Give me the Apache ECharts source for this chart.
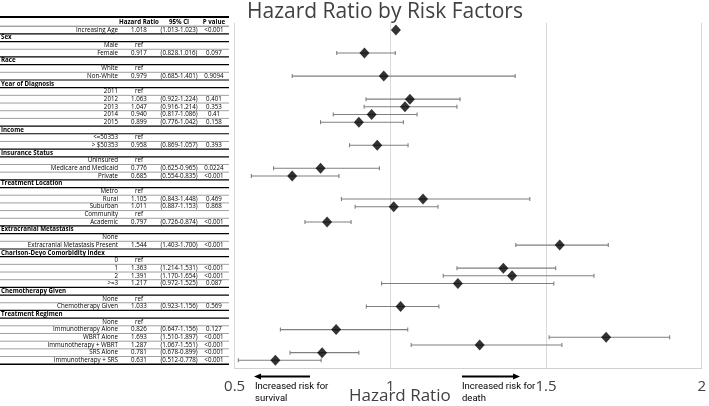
<!DOCTYPE html>
<html>
<head>
<meta charset="utf-8">
<script src="https://cdn.jsdelivr.net/npm/echarts@6/dist/echarts.min.js"></script>
<style>html,body{margin:0;padding:0;background:#fff}#c{width:709px;height:406px}</style>
</head>
<body>
<div id="c"></div>
<script>
// ---- data ----
const rowLabels = ["", "Increasing Age", "Sex", "Male", "Female", "Race", "White", "Non-White",
  "Year of Diagnosis", "2011", "2012", "2013", "2014", "2015", "Income", "<=50353", "> $50353",
  "Insurance Status", "Uninsured", "Medicare and Medicaid", "Private", "Treatment Location",
  "Metro", "Rural", "Suburban", "Community", "Academic", "Extracranial Metastasis", "None",
  "Extracranial Metastasis Present", "Charlson-Deyo Comorbidity Index", "0", "1", "2", ">=3",
  "Chemotherapy Given", "None", "Chemotherapy Given", "Treatment Regimen", "None",
  "Immunotherapy Alone", "WBRT Alone", "Immunotherapy + WBRT", "SRS Alone", "Immunotherapy + SRS"];
const isGroup = [0,0,1,0,0,1,0,0,1,0,0,0,0,0,1,0,0,1,0,0,0,1,0,0,0,0,0,1,0,0,1,0,0,0,0,1,0,0,1,0,0,0,0,0,0];
const hrText = ["Hazard Ratio","1.018","","ref","0.917","","ref","0.979","","ref","1.063","1.047","0.940","0.899",
  "","ref","0.958","","ref","0.776","0.685","","ref","1.105","1.011","ref","0.797","","","1.544","","ref",
  "1.363","1.391","1.217","","ref","1.033","","ref","0.826","1.693","1.287","0.781","0.631"];
const ciText = ["95% CI","(1.013-1.023)","","","(0.828.1.016)","","","(0.685-1.401)","","","(0.922-1.224)",
  "(0.916-1.214)","(0.817-1.086)","(0.776-1.042)","","","(0.869-1.057)","","","(0.625-0.965)","(0.554-0.835)",
  "","","(0.843-1.448)","(0.887-1.153)","","(0.726-0.874)","","","(1.403-1.700)","","","(1.214-1.531)",
  "(1.170-1.654)","(0.972-1.525)","","","(0.923-1.156)","","","(0.647-1.156)","(1.510-1.897)","(1.067-1.551)",
  "(0.678-0.899)","(0.512-0.778)"];
const pText = ["P value","<0.001","","","0.097","","","0.9094","","","0.401","0.353","0.41","0.158","","","0.393",
  "","","0.0224","<0.001","","","0.469","0.868","","<0.001","","","<0.001","","","<0.001","<0.001","0.087",
  "","","0.569","","","0.127","<0.001","<0.001","<0.001","<0.001"];
const hr = [null,1.018,null,null,0.917,null,null,0.979,null,null,1.063,1.047,0.940,0.899,null,null,0.958,
  null,null,0.776,0.685,null,null,1.105,1.011,null,0.797,null,null,1.544,null,null,1.363,1.391,1.217,
  null,null,1.033,null,null,0.826,1.693,1.287,0.781,0.631];
const ciLow = [null,1.013,null,null,0.828,null,null,0.685,null,null,0.922,0.916,0.817,0.776,null,null,0.869,
  null,null,0.625,0.554,null,null,0.843,0.887,null,0.726,null,null,1.403,null,null,1.214,1.170,0.972,
  null,null,0.923,null,null,0.647,1.510,1.067,0.678,0.512];
const ciHigh = [null,1.023,null,null,1.016,null,null,1.401,null,null,1.224,1.214,1.086,1.042,null,null,1.057,
  null,null,0.965,0.835,null,null,1.448,1.153,null,0.874,null,null,1.700,null,null,1.531,1.654,1.525,
  null,null,1.156,null,null,1.056,1.897,1.551,0.899,0.778];
const xTicks = [0.5, 1, 1.5, 2];

// ---- chart ----
const FONT = "Open Sans";
const chart = echarts.init(document.getElementById('c'));
const pointData = [], barData = [], tableData = [];
rowLabels.forEach((l, i) => {
  tableData.push([0, i]);
  if (hr[i] != null) {
    pointData.push([hr[i], i]);
    if (ciLow[i] != null && ciHigh[i] - ciLow[i] > 0.02) barData.push([ciLow[i], ciHigh[i], i]);
  }
});
const yMin = 0.05, yMax = 45.0;
const lastOfGroup = i => (i + 1 < rowLabels.length && isGroup[i + 1]) || i === rowLabels.length - 1;

chart.setOption({
  animation: false,
  title: {text: 'Hazard Ratio by Risk Factors', left: 242, top: -3,
    textStyle: {fontFamily: FONT, fontSize: 21, fontWeight: 'normal', color: '#404040'}},
  grid: [
    {left: 0, width: 232, top: 22.7, bottom: 38},
    {left: 234.6, right: 4.1, top: 22.7, bottom: 38}
  ],
  xAxis: [
    {gridIndex: 0, type: 'value', min: 0, max: 232, show: false},
    {gridIndex: 1, type: 'value', min: 0.5, max: 2, interval: 0.5,
      axisLine: {show: true, lineStyle: {color: '#d0d0d0'}}, axisTick: {show: false},
      axisLabel: {fontFamily: FONT, fontSize: 15, color: '#404040', margin: 11,
        formatter: v => xTicks.indexOf(v) >= 0 ? String(v) : ''},
      splitLine: {show: true, lineStyle: {color: '#d9d9d9', width: 1}}}
  ],
  yAxis: [
    {gridIndex: 0, type: 'value', inverse: true, min: yMin, max: yMax, show: false},
    {gridIndex: 1, type: 'value', inverse: true, min: yMin, max: yMax, show: false}
  ],
  graphic: [
    {type: 'text', left: 349, top: 388, style: {text: 'Hazard Ratio', font: '17px "Open Sans"', fill: '#404040'}},
    {type: 'line', shape: {x1: 310, y1: 376.5, x2: 259, y2: 376.5}, style: {stroke: '#000', lineWidth: 2}},
    {type: 'polygon', shape: {points: [[254, 376.5], [261, 373.5], [261, 379.5]]}, style: {fill: '#000'}},
    {type: 'text', left: 255, top: 381, style: {text: 'Increased risk for\nsurvival', font: '9.5px Roboto', fill: '#000', lineHeight: 12}},
    {type: 'line', shape: {x1: 462, y1: 376.5, x2: 514, y2: 376.5}, style: {stroke: '#000', lineWidth: 2}},
    {type: 'polygon', shape: {points: [[520, 376.5], [513, 373.5], [513, 379.5]]}, style: {fill: '#000'}},
    {type: 'text', left: 462, top: 381, style: {text: 'Increased risk for\ndeath', font: '9.5px Roboto', fill: '#000', lineHeight: 12}}
  ],
  series: [
    {
      type: 'custom', xAxisIndex: 0, yAxisIndex: 0, data: tableData, clip: false,
      renderItem: (params, api) => {
        const i = api.value(1);
        const y = api.coord([0, i])[1];
        const x = v => api.coord([v, i])[0];
        const ch = [];
        const hdr = i === 0;
        const base = {fontFamily: FONT, fontSize: 6.2, fill: '#000', textVerticalAlign: 'middle'};
        if (isGroup[i]) {
          ch.push({type: 'text', style: Object.assign({}, base, {text: rowLabels[i], x: x(1), y: y, textAlign: 'left', fontWeight: 'bold'})});
        } else if (rowLabels[i]) {
          ch.push({type: 'text', style: Object.assign({}, base, {text: rowLabels[i], x: x(118), y: y, textAlign: 'right'})});
        }
        const cols = [[hrText[i], 139], [ciText[i], 179], [pText[i], 214]];
        cols.forEach(c => {
          if (c[0]) ch.push({type: 'text', style: Object.assign({}, base, {text: c[0], x: x(c[1]), y: y, textAlign: 'center', fontWeight: hdr ? 'bold' : 'normal'})});
        });
        let col = '#888', w = 0.8;
        if (isGroup[i] || lastOfGroup(i)) { col = '#000'; w = 1.2; }
        if (hdr) { col = '#555'; w = 0.8; }
        if (i === rowLabels.length - 1) { w = 1.6; }
        const ly = y + 3.9;
        ch.push({type: 'line', shape: {x1: x(0), y1: ly, x2: x(229), y2: ly}, style: {stroke: col, lineWidth: w}});
        if (hdr) {
          const ty = y - 5.3;
          ch.push({type: 'line', shape: {x1: x(0), y1: ty, x2: x(229), y2: ty}, style: {stroke: '#000', lineWidth: 1.8}});
        }
        return {type: 'group', children: ch};
      }
    },
    {
      type: 'custom', xAxisIndex: 1, yAxisIndex: 1, data: barData,
      renderItem: (params, api) => {
        const lo = api.coord([api.value(0), api.value(2)]);
        const hi = api.coord([api.value(1), api.value(2)]);
        const s = {stroke: '#7f7f7f', lineWidth: 1.1};
        return {type: 'group', children: [
          {type: 'line', shape: {x1: lo[0], y1: lo[1], x2: hi[0], y2: hi[1]}, style: s},
          {type: 'line', shape: {x1: lo[0], y1: lo[1] - 2, x2: lo[0], y2: lo[1] + 2}, style: s},
          {type: 'line', shape: {x1: hi[0], y1: hi[1] - 2, x2: hi[0], y2: hi[1] + 2}, style: s}
        ]};
      }
    },
    {
      type: 'scatter', xAxisIndex: 1, yAxisIndex: 1, data: pointData,
      symbol: 'diamond', symbolSize: [10, 11], itemStyle: {color: '#000'}, z: 5
    }
  ]
});
</script>
</body>
</html>
